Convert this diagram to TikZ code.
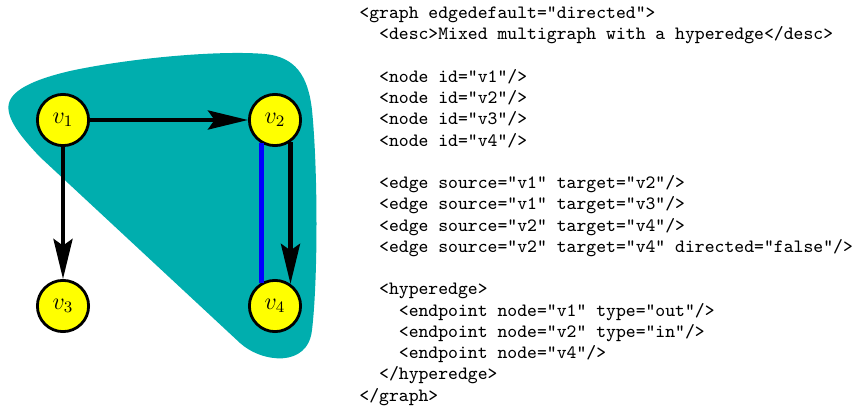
\documentclass[tikz,border=0pt]{standalone}
\usetikzlibrary{arrows.meta}
\definecolor{hyper}{RGB}{0,174,174}
\definecolor{vyellow}{RGB}{255,255,0}
\begin{document}
\begin{tikzpicture}[x=0.5pt,y=-0.5pt,
  vertex/.style={circle,draw=black,line width=1.4pt,fill=vyellow,minimum size=25.6pt,inner sep=0pt,font=\fontsize{12}{14}\selectfont},
  diedge/.style={line width=2.2pt,-{Stealth[length=20pt,width=9.5pt,inset=3.3pt]}},
  undiedge/.style={line width=2.2pt,blue},
  codeline/.style={anchor=base west,inner sep=0pt,font=\fontsize{9.4}{11}\selectfont\ttfamily}]
\useasboundingbox (0,0) rectangle (853,407);
% hyperedge blob
\fill[hyper] (240,343) -- (40,157)
  .. controls (22,138) and (5,118) .. (9,103)
  .. controls (13,88) and (40,78) .. (70,71)
  .. controls (130,58) and (220,50) .. (265,54)
  .. controls (295,57) and (308,75) .. (312,110)
  .. controls (318,170) and (318,280) .. (312,330)
  .. controls (308,368) and (262,363) .. (240,343) -- cycle;
% vertices
\node[vertex] (v1) at (63,120) {$v_1$};
\node[vertex] (v2) at (275,120) {$v_2$};
\node[vertex] (v3) at (63,306) {$v_3$};
\node[vertex] (v4) at (275,306) {$v_4$};
% edges
\draw[diedge] (v1) -- (v2);
\draw[diedge] (v1) -- (v3);
\draw[diedge] (v2.-55) -- (v4.55);
\draw[undiedge] (v2.-120) -- (v4.120);
% code
\node[codeline] (c0) at (359,18.5) {<graph edgedefault="directed">};
\node[codeline] (c1) at (378.74,39.75) {<desc>Mixed multigraph with a hyperedge</desc>};
\node[codeline] (c3) at (378.74,82.25) {<node id="v1"/>};
\node[codeline] (c4) at (378.74,103.5) {<node id="v2"/>};
\node[codeline] (c5) at (378.74,124.75) {<node id="v3"/>};
\node[codeline] (c6) at (378.74,146) {<node id="v4"/>};
\node[codeline] (c8) at (378.74,188.5) {<edge source="v1" target="v2"/>};
\node[codeline] (c9) at (378.74,209.75) {<edge source="v1" target="v3"/>};
\node[codeline] (c10) at (378.74,231) {<edge source="v2" target="v4"/>};
\node[codeline] (c11) at (378.74,252.25) {<edge source="v2" target="v4" directed="false"/>};
\node[codeline] (c13) at (378.74,294.75) {<hyperedge>};
\node[codeline] (c14) at (398.48,316) {<endpoint node="v1" type="out"/>};
\node[codeline] (c15) at (398.48,337.25) {<endpoint node="v2" type="in"/>};
\node[codeline] (c16) at (398.48,358.5) {<endpoint node="v4"/>};
\node[codeline] (c17) at (378.74,379.75) {</hyperedge>};
\node[codeline] (c18) at (359,401) {</graph>};
\end{tikzpicture}
\end{document}
